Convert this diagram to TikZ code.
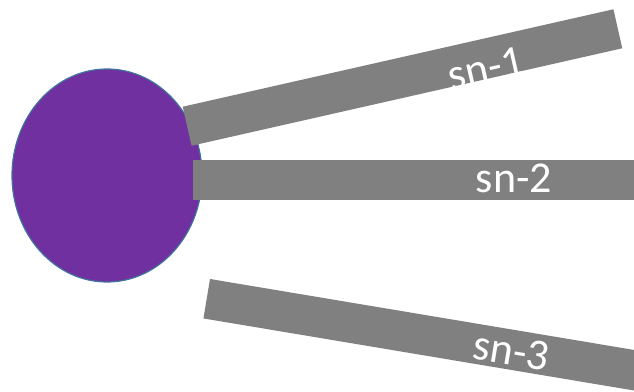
\documentclass[tikz,border=0pt]{standalone}
\usepackage{fontspec}
\setmainfont{Carlito}
\usetikzlibrary{shapes.geometric}
\definecolor{hubpurple}{HTML}{7030A0}
\definecolor{hubedge}{HTML}{41719C}
\definecolor{bargrey}{HTML}{808080}

\begin{document}
\begin{tikzpicture}[x=1pt, y=-1pt,
    hub/.style={ellipse, draw=hubedge, line width=1.2pt, fill=hubpurple,
                minimum width=190pt, minimum height=213pt, inner sep=0pt},
    bar/.style={rectangle, fill=bargrey, minimum height=40pt, inner sep=0pt},
    lab/.style={text=white, font=\fontsize{44}{44}\selectfont, inner sep=0pt}]
  \useasboundingbox (0,0) rectangle (634,391);
  \node[hub] (hub) at (107,175.5) {};
  % the three spokes, laid over the hub
  \node[bar, minimum width=441.6pt, rotate=12.75] (sn1) at (402.5,77.5) {};
  \node[bar, minimum width=447pt] (sn2) at (416.5,179.5) {};
  \node[bar, minimum width=470pt, rotate=-9.5] (sn3) at (438.5,337.5) {};
  \node[lab, rotate=12.75] (sn1lab) at (486,68) {sn-1};
  \node[lab] (sn2lab) at (514,178) {sn-2};
  \node[lab, rotate=-9.5] (sn3lab) at (511.5,351) {sn-3};
\end{tikzpicture}
\end{document}
